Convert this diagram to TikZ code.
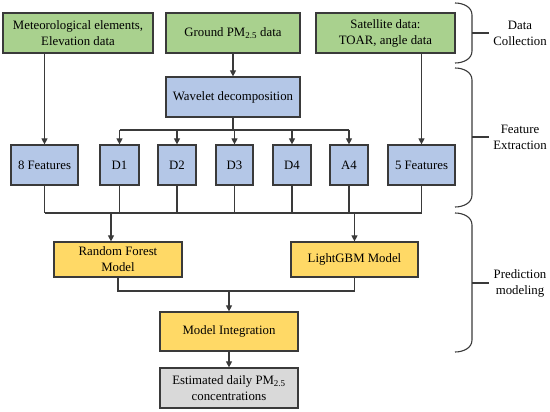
\documentclass[tikz,border=0pt]{standalone}
\usepackage{fontspec}
\setmainfont{Liberation Serif}
\usetikzlibrary{arrows.meta}
\definecolor{cgreen}{HTML}{A9D18E}
\definecolor{cblue}{HTML}{B4C7E7}
\definecolor{cyellow}{HTML}{FFD966}
\definecolor{cgray}{HTML}{D9D9D9}
\definecolor{cline}{HTML}{3A3A3A}
\begin{document}
\begin{tikzpicture}[x=1pt,y=-1pt,
  box/.style={draw=cline,line width=1.2pt,align=center,inner sep=1pt,
    font=\fontsize{12.8}{16}\selectfont,text=black},
  topbox/.style={box,fill=cgreen,minimum width=150pt,minimum height=40pt},
  featbox/.style={box,fill=cblue,minimum height=40pt},
  modbox/.style={box,fill=cyellow,minimum height=35pt},
  line/.style={draw=cline,line width=1.1pt},
  arr/.style={line,-{Triangle[length=6pt,width=6pt]}},
  brace/.style={draw=cline,line width=1.1pt},
  lbl/.style={align=center,font=\fontsize{12.8}{16}\selectfont,inner sep=0pt}]
\useasboundingbox (0,0) rectangle (550,412);
% top row
\node[topbox] (met) at (78,33) {Meteorological elements,\\Elevation data};
\node[topbox,minimum width=134pt] (ground) at (233,33) {Ground PM\textsubscript{2.5} data};
\node[topbox,minimum width=139pt] (sat) at (385.5,33) {Satellite data:\\TOAR, angle data};
% wavelet
\node[featbox,minimum width=134pt] (wave) at (233,97) {Wavelet decomposition};
% feature row
\node[featbox,minimum width=67pt] (f8) at (44.5,165) {8 Features};
\node[featbox,minimum width=39pt] (d1) at (119.5,165) {D1};
\node[featbox,minimum width=38pt] (d2) at (177,165) {D2};
\node[featbox,minimum width=37pt] (d3) at (234.5,165) {D3};
\node[featbox,minimum width=38pt] (d4) at (292,165) {D4};
\node[featbox,minimum width=38pt] (a4) at (349,165) {A4};
\node[featbox,minimum width=67pt] (f5) at (421.5,165) {5 Features};
% models
\node[modbox,minimum width=128pt] (rf) at (118,259.5) {Random Forest\\Model};
\node[modbox,minimum width=127pt] (lgbm) at (354.5,259.5) {LightGBM Model};
\node[modbox,minimum width=138pt,minimum height=39pt] (integ) at (229,331.5) {Model Integration};
\node[box,fill=cgray,minimum width=138pt,minimum height=40pt] (est) at (229,388) {Estimated daily PM\textsubscript{2.5}\\concentrations};
% coordinates
\coordinate (branch) at (233,130);
\coordinate (coll) at (233,213);
\coordinate (merge) at (229,291);
% connectors top
\draw[arr] (met.south -| f8.north) -- (f8.north);
\draw[arr] (ground.south) -- (wave.north);
\draw[arr] (sat.south -| f5.north) -- (f5.north);
% wavelet branches
\draw[line] (wave.south) -- (branch);
\draw[line] (branch -| d1.north) -- (branch -| a4.north);
\foreach \n in {d1,d2,d3,d4,a4} \draw[arr] (branch -| \n.north) -- (\n.north);
% collector
\foreach \n in {f8,d1,d2,d3,d4,a4,f5} \draw[line] (\n.south) -- (coll -| \n.south);
\draw[line] (coll -| f8.south) -- (coll -| f5.south);
\coordinate (rfin) at (111,213);
\draw[arr] (rfin) -- (rfin |- rf.north);
\draw[arr] (coll -| lgbm.north) -- (lgbm.north);
% merge
\draw[line] (rf.south) -- (merge -| rf.south) -- (merge -| lgbm.south) -- (lgbm.south);
\draw[arr] (merge) -- (integ.north);
\draw[arr] (integ.south) -- (est.north);
% braces
\draw[brace] (455,3) to[out=0,in=90] (472,15) -- (472,51) to[out=-90,in=0] (455,63);
\draw[brace] (472,33) -- (489,33);
\node[lbl] (lab1) at (520,33) {Data\\Collection};
\draw[brace] (455,68) to[out=0,in=90] (472,80) -- (472,195) to[out=-90,in=0] (455,207);
\draw[brace] (472,137) -- (489,137);
\node[lbl] (lab2) at (520,137) {Feature\\Extraction};
\draw[brace] (455,213) to[out=0,in=90] (472,225) -- (472,340) to[out=-90,in=0] (455,352);
\draw[brace] (472,283) -- (489,283);
\node[lbl] (lab3) at (520,283) {Prediction\\modeling};
\end{tikzpicture}
\end{document}
